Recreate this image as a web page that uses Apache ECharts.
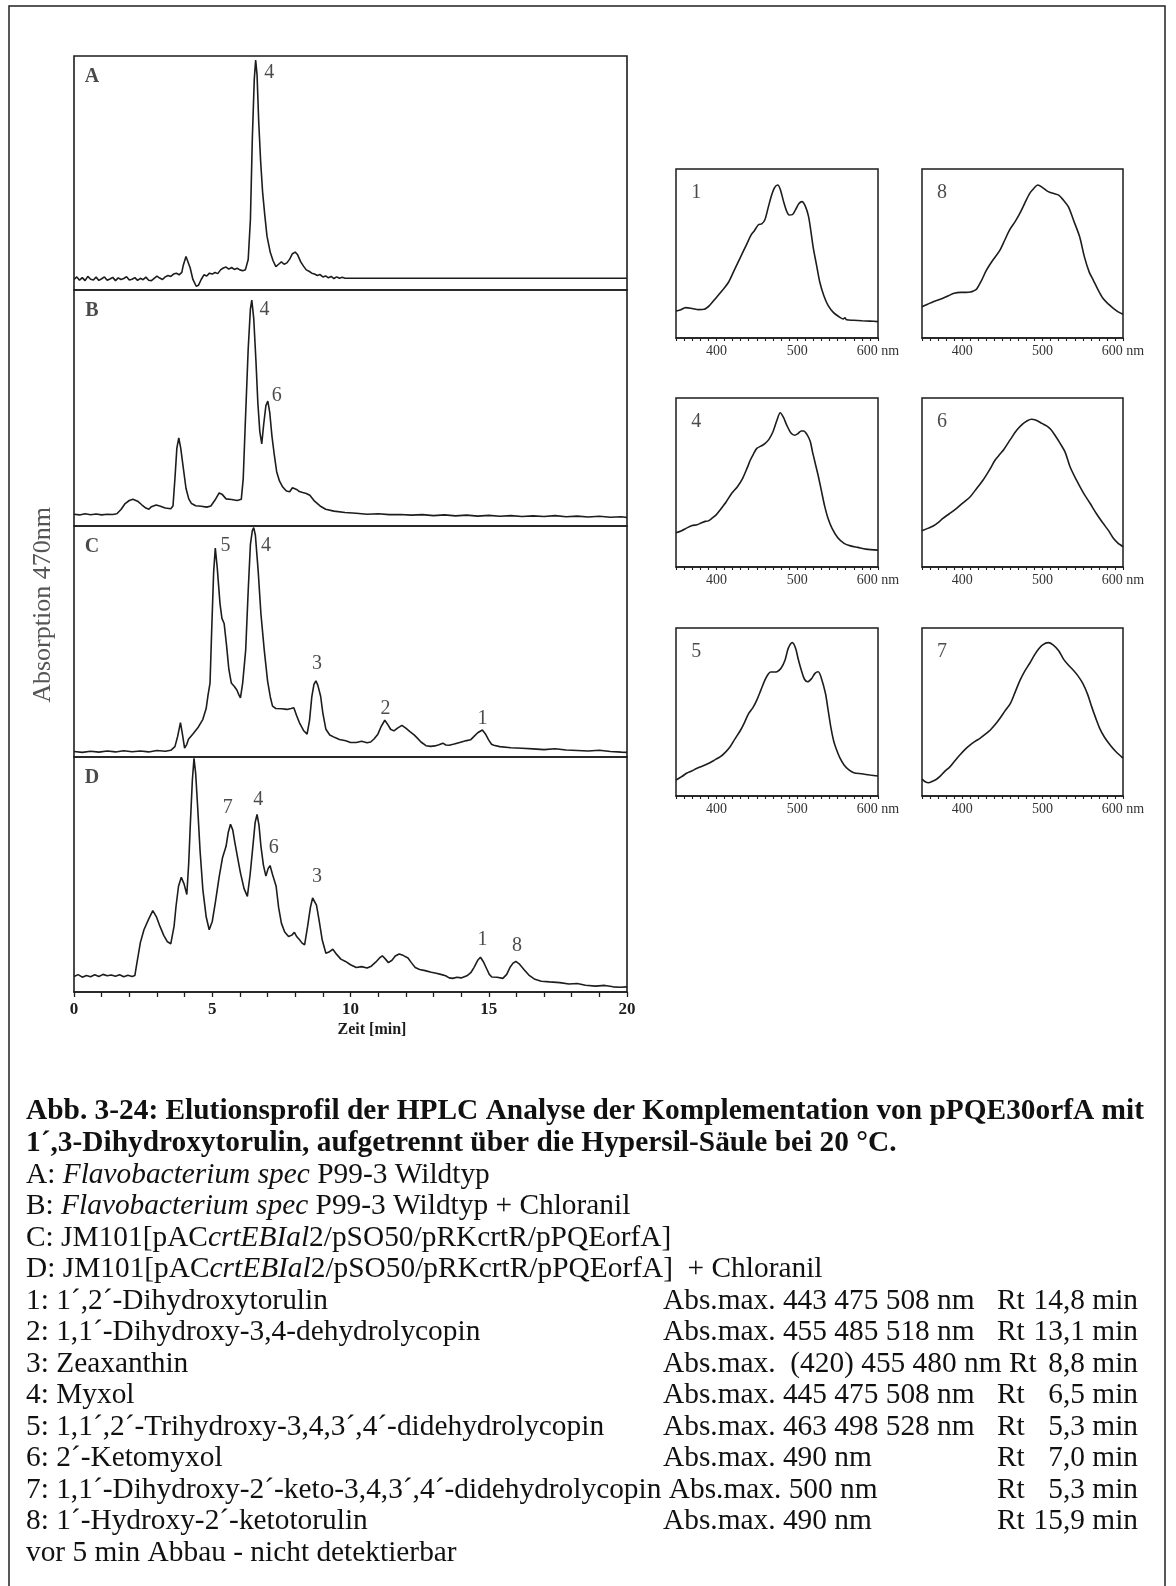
<!DOCTYPE html>
<html><head><meta charset="utf-8">
<script src="https://cdn.jsdelivr.net/npm/echarts@6.0.0/dist/echarts.min.js"></script>
<style>html,body{margin:0;padding:0;background:#fff;}#chart{width:1176px;height:1586px;}</style>
</head><body><div id="chart"></div>
<script>
// ---------------- DATA ----------------
// HPLC traces: [time (min), relative absorption (% of panel height)]
const traceA = [[0,4.5],[0.1,5.6],[0.2,4.2],[0.3,5.3],[0.4,4.0],[0.5,5.8],[0.6,4.6],[0.7,4.3],[0.8,5.5],[0.9,4.1],[1.0,4.8],[1.1,5.6],[1.2,4.2],[1.3,4.7],[1.4,5.4],[1.5,4.0],[1.6,5.2],[1.7,4.5],[1.8,4.9],[1.9,5.7],[2.0,4.3],[2.1,4.6],[2.2,5.3],[2.3,4.1],[2.4,5.0],[2.5,4.4],[2.6,5.5],[2.7,4.2],[2.8,4.0],[2.9,5.0],[3.0,5.9],[3.1,5.1],[3.2,4.5],[3.3,5.6],[3.4,6.2],[3.5,5.8],[3.6,6.8],[3.7,7.2],[3.8,6.5],[3.9,7.5],[3.95,10.5],[4.05,14.3],[4.12,14.0],[4.2,9.5],[4.3,4.5],[4.42,1.6],[4.5,2.0],[4.6,4.5],[4.7,6.5],[4.8,6.0],[4.9,7.2],[5.0,6.8],[5.1,7.5],[5.2,7.0],[5.3,8.6],[5.4,9.4],[5.5,9.8],[5.6,8.9],[5.7,9.6],[5.8,8.8],[5.9,9.3],[6.0,8.6],[6.1,8.2],[6.2,8.7],[6.3,13],[6.38,30],[6.45,65],[6.52,90],[6.57,98.3],[6.62,92],[6.68,72],[6.75,55],[6.82,42],[6.9,32],[6.98,23],[7.1,16],[7.2,12.5],[7.3,10.0],[7.4,11.0],[7.5,12.0],[7.6,11.0],[7.7,11.6],[7.8,13.2],[7.9,15.5],[8.0,16.2],[8.08,15.2],[8.2,12.0],[8.3,10.2],[8.4,8.6],[8.5,8.0],[8.6,7.2],[8.7,6.8],[8.8,6.2],[8.9,6.6],[9.0,5.6],[9.1,6.0],[9.2,5.2],[9.3,5.8],[9.4,4.9],[9.5,5.6],[9.6,5.0],[9.7,5.4],[9.8,5.0],[20,5.0]];
const traceB = [[0,5.0],[0.2,4.7],[0.4,5.2],[0.6,4.8],[0.8,5.1],[1.0,4.7],[1.2,5.0],[1.4,4.9],[1.55,5.2],[1.7,7.0],[1.85,9.5],[2.0,10.8],[2.13,11.3],[2.3,10.5],[2.45,9.0],[2.6,7.6],[2.71,7.1],[2.8,8.2],[2.97,8.9],[3.1,8.5],[3.3,7.6],[3.5,7.3],[3.58,8.5],[3.65,20],[3.72,33],[3.79,37.3],[3.86,33],[3.95,24.8],[4.05,16],[4.15,11.5],[4.25,9.5],[4.4,8.6],[4.6,8.4],[4.8,8.0],[4.95,8.5],[5.1,11],[5.25,14],[5.35,13.5],[5.5,11.5],[5.7,11.2],[5.9,10.8],[6.05,11.3],[6.12,20],[6.2,45],[6.3,75],[6.38,92],[6.43,95.7],[6.5,88],[6.58,70],[6.65,52],[6.72,40],[6.79,34.8],[6.86,43],[6.94,51],[7.01,52.9],[7.08,48],[7.16,38],[7.24,30.5],[7.33,23],[7.43,19.1],[7.55,16.5],[7.68,14.8],[7.8,14.5],[7.9,16.2],[7.97,17.0],[8.05,15.5],[8.15,14.6],[8.27,14.2],[8.4,13.8],[8.53,13.0],[8.7,10.5],[8.9,8.5],[9.1,7.1],[9.4,6.3],[9.8,5.7],[10.2,5.4],[10.6,5.0],[11.0,5.2],[11.4,4.8],[11.8,4.9],[12.2,4.6],[12.6,4.8],[13.0,4.4],[13.4,4.7],[13.8,4.3],[14.2,4.6],[14.6,4.2],[15.0,4.5],[15.4,4.1],[15.8,4.4],[16.2,4.0],[16.6,4.3],[17.0,4.0],[17.4,4.4],[17.8,3.9],[18.2,4.2],[18.6,3.8],[19.0,4.1],[19.4,3.7],[19.8,3.9],[20,3.6]];
const traceC = [[0,2.4],[0.3,2.0],[0.6,2.5],[0.9,2.1],[1.2,2.6],[1.5,2.2],[1.8,2.7],[2.1,2.3],[2.4,2.6],[2.7,2.2],[3.0,2.8],[3.3,2.5],[3.5,2.9],[3.65,4.5],[3.75,9],[3.85,14.9],[3.92,10],[4.0,3.8],[4.08,5.5],[4.14,7.7],[4.3,10],[4.5,13],[4.66,16.3],[4.78,21],[4.85,27],[4.92,32],[4.98,55],[5.05,80],[5.11,90.4],[5.18,82],[5.28,66.4],[5.35,60],[5.43,57.8],[5.52,48],[5.6,38],[5.69,32],[5.8,30.5],[5.89,29],[5.96,27],[6.02,25.6],[6.1,32],[6.21,46.4],[6.3,72],[6.38,92],[6.45,98],[6.5,99.3],[6.56,96],[6.66,80.7],[6.76,62],[6.88,46.4],[7.0,33],[7.1,26],[7.18,22],[7.3,21],[7.51,20.9],[7.7,20.6],[7.85,21],[7.95,21.3],[8.05,18],[8.15,14.9],[8.3,11.5],[8.43,9.9],[8.52,16],[8.6,26],[8.68,31.5],[8.75,33],[8.82,31],[8.92,26.3],[9.0,19],[9.11,12],[9.25,9.5],[9.44,8.4],[9.6,7.6],[9.83,7.0],[10.0,6.3],[10.21,6.3],[10.4,6.8],[10.6,6.2],[10.73,6.5],[10.85,7.8],[10.99,9.9],[11.1,13],[11.24,15.9],[11.35,14],[11.45,12],[11.57,11.3],[11.7,12.5],[11.86,13.7],[12.0,12.5],[12.15,11],[12.3,9.6],[12.4,8.4],[12.55,6.5],[12.73,4.9],[12.9,4.6],[13.05,4.8],[13.2,5.3],[13.34,6.0],[13.45,5.2],[13.57,5.1],[13.75,5.6],[13.95,6.3],[14.2,7.1],[14.35,7.5],[14.46,8.8],[14.6,10.5],[14.77,11.7],[14.88,10],[14.99,7.5],[15.1,5.5],[15.18,5.1],[15.4,4.5],[15.8,4.0],[16.2,3.8],[16.6,3.5],[17.0,3.2],[17.4,3.6],[17.8,3.0],[18.2,2.8],[18.6,2.6],[19.0,2.9],[19.4,2.4],[19.8,2.1],[20,2.0]];
const traceD = [[0,6.6],[0.15,7.4],[0.3,6.3],[0.45,7.0],[0.6,6.5],[0.75,7.3],[0.9,6.6],[1.05,7.5],[1.2,6.9],[1.35,7.2],[1.5,6.7],[1.65,7.3],[1.8,6.5],[1.95,7.1],[2.1,6.6],[2.2,7.0],[2.27,12],[2.4,21],[2.53,26.5],[2.7,31],[2.85,34.6],[2.98,32],[3.11,27.9],[3.25,24],[3.37,21.5],[3.5,20.5],[3.56,20.4],[3.62,28],[3.69,36.5],[3.78,45],[3.88,48.8],[3.98,46],[4.08,41.5],[4.15,55],[4.21,72.1],[4.28,90],[4.34,99.4],[4.4,93],[4.47,79.2],[4.56,60],[4.66,43.6],[4.78,32],[4.89,26.5],[5.0,30],[5.11,37.9],[5.25,49],[5.37,57.1],[5.5,62],[5.58,68],[5.66,71.4],[5.74,69],[5.82,63.5],[5.92,57],[6.02,50.7],[6.15,44],[6.27,40.7],[6.37,50],[6.47,62.1],[6.55,72],[6.62,75.6],[6.69,71],[6.76,62.1],[6.85,54],[6.94,49.3],[7.02,52.5],[7.09,53.8],[7.18,50],[7.31,45],[7.4,36],[7.5,29.3],[7.62,25.5],[7.76,23.6],[7.88,24.2],[7.97,25.4],[8.06,23.5],[8.15,22.3],[8.25,20.8],[8.34,20.1],[8.45,28],[8.55,36],[8.63,40],[8.69,40.7],[8.77,37],[8.86,30.8],[8.98,22],[9.11,16.5],[9.22,17],[9.36,18.2],[9.5,16],[9.65,14],[9.82,13],[10.0,11.6],[10.21,10.4],[10.4,10.8],[10.6,10.2],[10.75,11],[10.92,12.8],[11.05,14.5],[11.15,15.4],[11.25,14.2],[11.37,12.5],[11.5,13.5],[11.62,15.3],[11.76,16.2],[11.9,15.6],[12.08,14.5],[12.2,12.5],[12.34,10.4],[12.5,9.6],[12.7,9.1],[12.92,8.4],[13.1,8.0],[13.3,7.4],[13.44,6.9],[13.57,6.0],[13.7,5.8],[13.85,6.3],[14.0,6.0],[14.21,6.9],[14.35,8.2],[14.47,10.5],[14.6,13.5],[14.7,14.8],[14.8,13],[14.92,10],[15.02,7.5],[15.11,6.4],[15.3,6.3],[15.51,5.8],[15.65,7.5],[15.77,10.5],[15.88,12.3],[15.98,13],[16.1,12],[16.28,9.5],[16.45,7.2],[16.67,5.4],[16.9,4.6],[17.2,4.3],[17.57,4.0],[17.9,3.4],[18.2,3.6],[18.5,2.9],[18.86,2.5],[19.2,2.8],[19.5,2.2],[19.74,2.0],[20,2.2]];

// Peak labels: [time, level, text]
const labelsA = [[7.06,92.7,'4']];
const labelsB = [[6.89,91.8,'4'],[7.33,55.3,'6']];
const labelsC = [[5.48,91.4,'5'],[6.94,91.4,'4'],[8.79,40.3,'3'],[11.27,20.9,'2'],[14.77,16.6,'1']];
const labelsD = [[5.56,78.5,'7'],[6.66,81.8,'4'],[7.22,61.4,'6'],[8.79,49,'3'],[14.77,22.2,'1'],[16.02,19.7,'8']];
const panelLetters = ['A','B','C','D'];
const chromTicks = [0,5,10,15,20];

// Absorption spectra: [wavelength (nm), relative absorbance]
const spec1 = [[350,16],[355,16.5],[362,18],[370,17.5],[378,16.8],[385,17],[392,19.5],[400,24],[408,28.5],[415,33],[422,40],[430,48],[437,55],[443,61],[447,63.5],[452,67],[456,67.5],[460,70],[464,77],[468,84],[472,89],[476,90.5],[479,88],[483,81],[487,75],[490,72.8],[494,73],[498,76],[502,79.5],[506,80.7],[510,78],[514,72],[517,63],[520,53],[524,43],[528,33],[533,25],[538,19.5],[545,15],[552,12.5],[557,11.2],[559,12],[561,10.8],[570,10.5],[580,10.2],[590,10],[600,9.7]];
const spec8 = [[350,18.5],[357,20],[364,21.5],[370,22.5],[376,23.5],[383,25],[390,26.5],[398,27],[405,27],[410,27.2],[414,27.8],[418,29],[424,34],[430,40],[438,46],[447,52],[453,58],[459,64],[466,69],[472,74],[478,80],[484,85.6],[489,88.5],[494,90.5],[500,89],[507,86.6],[514,85.5],[520,84.5],[526,81.5],[532,77.7],[539,69],[546,60],[552,48],[558,39],[563,34.3],[569,28.5],[575,23.5],[582,20],[588,17.6],[594,15.5],[600,14]];
const spec4 = [[350,20.3],[357,21.5],[363,23],[370,24.5],[376,25],[381,26],[386,27],[390,27.3],[395,29],[400,31],[405,34],[412,38.5],[419,43.6],[426,47.5],[432,52],[438,58.5],[442,63.3],[446,67],[450,70.2],[455,71.5],[460,73],[465,75.5],[470,80],[475,87],[479,91.3],[483,88.5],[487,84],[492,79.5],[497,78],[501,79],[505,80.5],[508,80.5],[512,78.5],[516,74.5],[519,68],[522,62],[526,54],[530,45],[534,36],[538,29],[543,23],[550,17.5],[558,14],[566,12.5],[575,11.6],[585,10.6],[600,10]];
const spec6 = [[350,21.5],[358,23],[364,24.3],[370,26.2],[376,28.8],[384,31.5],[393,34.7],[401,38],[410,41.6],[418,46.5],[426,51.5],[434,57.5],[441,63.3],[447,66.8],[452,69.7],[460,75.5],[468,81],[475,84.5],[481,86.5],[486,87.4],[492,86.8],[499,85],[505,83.5],[510,81.5],[516,77.5],[522,73],[528,68],[534,59.5],[542,51.5],[550,44.5],[559,37.7],[567,31.5],[575,26],[582,21.5],[588,17],[594,14],[597,13],[600,12]];
const spec5 = [[350,9.5],[357,11.5],[363,13.5],[370,15],[376,16.5],[383,17.8],[392,19.8],[398,21.5],[405,23.4],[411,26],[417,29.3],[423,34],[430,39.3],[435,44],[440,49.2],[445,52.5],[450,57.1],[455,63],[460,69],[464,72.5],[467,73.8],[471,73.8],[475,74],[480,76],[485,81],[489,88],[494,91.3],[498,88],[501,82],[505,75],[509,69.5],[513,68],[518,70],[522,73],[526,74],[530,70],[535,61],[538,52],[541.5,41.3],[545,33],[548,28.4],[553,22.5],[558,18.5],[564,15.5],[570,13.9],[580,13.2],[590,12.5],[600,11.9]];
const spec7 = [[350,10],[354,8.5],[358,7.9],[363,8.8],[368,10],[372,11.5],[378,14.5],[385,17.5],[391,21],[397,24.4],[403,27.5],[410,30.4],[416,32.5],[422,34.3],[428,36.5],[435,39.3],[441,42.5],[447,46.3],[453,50.5],[460,55.2],[466,62],[472,69],[478,74.5],[484,79],[490,84],[495,87.5],[500,90],[507,91.3],[513,90],[520,86.5],[526,81.5],[532,78],[538,75],[544,71.5],[550,67],[556,60.5],[561,53.2],[566,46.5],[571,40.3],[577,35],[584,30.4],[591,26.5],[598,23.4],[600,22.5]];
const specNames = ['1','8','4','6','5','7'];
const specTicks = [400,500,600];

// Caption text
const captionTitle = ['Abb. 3-24: Elutionsprofil der HPLC Analyse der Komplementation von pPQE30orfA mit',
  '1\u00B4,3-Dihydroxytorulin, aufgetrennt \u00FCber die Hypersil-S\u00E4ule bei 20 \u00B0C.'];
const sampleLines = [
  [['A: ','n'],['Flavobacterium spec','i'],[' P99-3 Wildtyp','n']],
  [['B: ','n'],['Flavobacterium spec','i'],[' P99-3 Wildtyp + Chloranil','n']],
  [['C: JM101[pAC','n'],['crtEBIal','i'],['2/pSO50/pRKcrtR/pPQEorfA]','n']],
  [['D: JM101[pAC','n'],['crtEBIal','i'],['2/pSO50/pRKcrtR/pPQEorfA]  + Chloranil','n']]
];
const compoundNames = ['1: 1\u00B4,2\u00B4-Dihydroxytorulin','2: 1,1\u00B4-Dihydroxy-3,4-dehydrolycopin','3: Zeaxanthin','4: Myxol',
  '5: 1,1\u00B4,2\u00B4-Trihydroxy-3,4,3\u00B4,4\u00B4-didehydrolycopin','6: 2\u00B4-Ketomyxol',
  '7: 1,1\u00B4-Dihydroxy-2\u00B4-keto-3,4,3\u00B4,4\u00B4-didehydrolycopin','8: 1\u00B4-Hydroxy-2\u00B4-ketotorulin'];
const compoundAbs = ['Abs.max. 443 475 508 nm','Abs.max. 455 485 518 nm','Abs.max.  (420) 455 480 nm Rt','Abs.max. 445 475 508 nm',
  'Abs.max. 463 498 528 nm','Abs.max. 490 nm','Abs.max. 500 nm','Abs.max. 490 nm'];
const compoundRtLabel = ['Rt','Rt','','Rt','Rt','Rt','Rt','Rt'];
const compoundRt = ['14,8 min','13,1 min','8,8 min','6,5 min','5,3 min','7,0 min','5,3 min','15,9 min'];
const footNote = 'vor 5 min Abbau - nicht detektierbar';

// ---------------- LAYOUT ----------------
const SERIF = '"Liberation Serif","Times New Roman",serif';
const INK = '#1d1d1d';
const chromPanels = [
  {trace: traceA, labels: labelsA, top: 56, height: 234},
  {trace: traceB, labels: labelsB, top: 290, height: 236},
  {trace: traceC, labels: labelsC, top: 526, height: 231},
  {trace: traceD, labels: labelsD, top: 757, height: 235}
];
const specData = [spec1, spec8, spec4, spec6, spec5, spec7];
const specLayout = [
  {left: 676, top: 169, width: 202, height: 169}, {left: 922, top: 169, width: 201, height: 169},
  {left: 676, top: 398, width: 202, height: 169}, {left: 922, top: 398, width: 201, height: 169},
  {left: 676, top: 628, width: 202, height: 168}, {left: 922, top: 628, width: 201, height: 168}
];

const grids = [], xAxes = [], yAxes = [], series = [];
const labelSeries = (idx, data, size, weight) => ({
  type: 'scatter', xAxisIndex: idx, yAxisIndex: idx, data: data, symbolSize: 1, silent: true, z: 6,
  itemStyle: {color: 'rgba(0,0,0,0)'},
  label: {show: true, position: 'inside', formatter: q => q.value[2], fontFamily: SERIF,
    fontSize: size, fontWeight: weight, color: INK}
});

chromPanels.forEach((p, i) => {
  const last = i === chromPanels.length - 1;
  grids.push({left: 74, top: p.top, width: 553, height: p.height, show: true, borderColor: INK, borderWidth: 1.6,
    backgroundColor: 'transparent', containLabel: false, outerBoundsMode: 'none'});
  xAxes.push({gridIndex: i, type: 'value', min: 0, max: 20, interval: 1, show: last,
    axisLine: {show: true, onZero: false, lineStyle: {color: INK, width: 1.6}},
    axisTick: {show: true, inside: false, length: 5, lineStyle: {color: INK, width: 1.3}},
    axisLabel: {show: true, margin: 9, fontFamily: SERIF, fontWeight: 'bold', fontSize: 17, color: INK,
      showMinLabel: true, showMaxLabel: true, formatter: v => chromTicks.includes(v) ? String(v) : ''},
    splitLine: {show: false}});
  yAxes.push({gridIndex: i, type: 'value', min: 0, max: 100, show: false, splitLine: {show: false}});
  series.push({type: 'line', xAxisIndex: i, yAxisIndex: i, data: p.trace, showSymbol: false, symbol: 'none',
    lineStyle: {color: INK, width: 1.6}, silent: true, z: 3});
  series.push(labelSeries(i, p.labels, 20, 'normal'));
  series.push(labelSeries(i, [[0.65, 91, panelLetters[i]]], 20, 'bold'));
});

specLayout.forEach((g, k) => {
  const i = chromPanels.length + k;
  grids.push({left: g.left, top: g.top, width: g.width, height: g.height, show: true, borderColor: INK, borderWidth: 1.5,
    backgroundColor: 'transparent', containLabel: false, outerBoundsMode: 'none'});
  xAxes.push({gridIndex: i, type: 'value', min: 350, max: 600, interval: 10,
    axisLine: {show: true, onZero: false, lineStyle: {color: INK, width: 1.5}},
    axisTick: {show: true, inside: false, length: 3, lineStyle: {color: INK, width: 1.1}},
    axisLabel: {show: true, margin: 6, fontFamily: SERIF, fontSize: 14, color: '#333',
      showMinLabel: true, showMaxLabel: true,
      formatter: v => specTicks.includes(v) ? (v === 600 ? '600 nm' : String(v)) : ''},
    splitLine: {show: false}});
  yAxes.push({gridIndex: i, type: 'value', min: 0, max: 100, show: false, splitLine: {show: false}});
  series.push({type: 'line', xAxisIndex: i, yAxisIndex: i, data: specData[k], showSymbol: false, symbol: 'none',
    smooth: 0.3, lineStyle: {color: INK, width: 1.6}, silent: true, z: 3});
  series.push(labelSeries(i, [[375, 86, specNames[k]]], 20, 'normal'));
});

// ---------- caption (graphic text) ----------
const CAP_SIZE = 29;
const mctx = document.createElement('canvas').getContext('2d');
const fontOf = (style) => (style === 'b' ? 'bold ' : style === 'i' ? 'italic ' : '') + CAP_SIZE + 'px ' + SERIF;
mctx.font = fontOf('b');
const capScale = (1144 - 26) / mctx.measureText(captionTitle[0]).width;
const textW = (t, style) => { mctx.font = fontOf(style); return mctx.measureText(t).width * capScale; };

const graphics = [];
const addText = (x, y, text, style, align) => {
  graphics.push({type: 'text', x: x, y: y, scaleX: capScale, silent: true,
    style: {text: text, font: fontOf(style), fill: '#111', align: align || 'left', verticalAlign: 'middle',
      textAlign: align || 'left', textVerticalAlign: 'middle'}});
};
const LINE0 = 1112, LSTEP = 31.5, X0 = 26;
let line = 0;
captionTitle.forEach(t => { addText(X0, LINE0 + LSTEP * line, t, 'b'); line++; });
sampleLines.forEach(segs => {
  let x = X0;
  segs.forEach(([t, s]) => { addText(x, LINE0 + LSTEP * line, t, s); x += textW(t, s); });
  line++;
});
compoundNames.forEach((nm, j) => {
  const y = LINE0 + LSTEP * line;
  addText(X0, y, nm, 'n');
  const nameEnd = X0 + textW(nm + ' ', 'n');
  addText(Math.max(nameEnd, j === 6 ? 656 : 663), y, compoundAbs[j], 'n');
  if (compoundRtLabel[j]) addText(997, y, compoundRtLabel[j], 'n');
  addText(1138, y, compoundRt[j], 'n', 'right');
  line++;
});
addText(X0, LINE0 + LSTEP * line, footNote, 'n');

// frame, axis titles
graphics.push({type: 'rect', silent: true, shape: {x: 9, y: 6, width: 1156, height: 1620},
  style: {fill: 'none', stroke: '#222', lineWidth: 1.5}});
graphics.push({type: 'text', x: 43, y: 605, rotation: Math.PI / 2, silent: true,
  style: {text: 'Absorption 470nm', font: '26px ' + SERIF, fill: '#555', align: 'center', verticalAlign: 'middle',
    textAlign: 'center', textVerticalAlign: 'middle'}});
graphics.push({type: 'text', x: 372, y: 1030, silent: true,
  style: {text: 'Zeit [min]', font: 'bold 16px ' + SERIF, fill: INK, align: 'center', verticalAlign: 'middle',
    textAlign: 'center', textVerticalAlign: 'middle'}});

const chart = echarts.init(document.getElementById('chart'), null, {renderer: 'canvas', width: 1176, height: 1586});
chart.setOption({
  animation: false,
  backgroundColor: '#ffffff',
  grid: grids, xAxis: xAxes, yAxis: yAxes, series: series,
  graphic: {elements: graphics}
});
</script></body></html>
